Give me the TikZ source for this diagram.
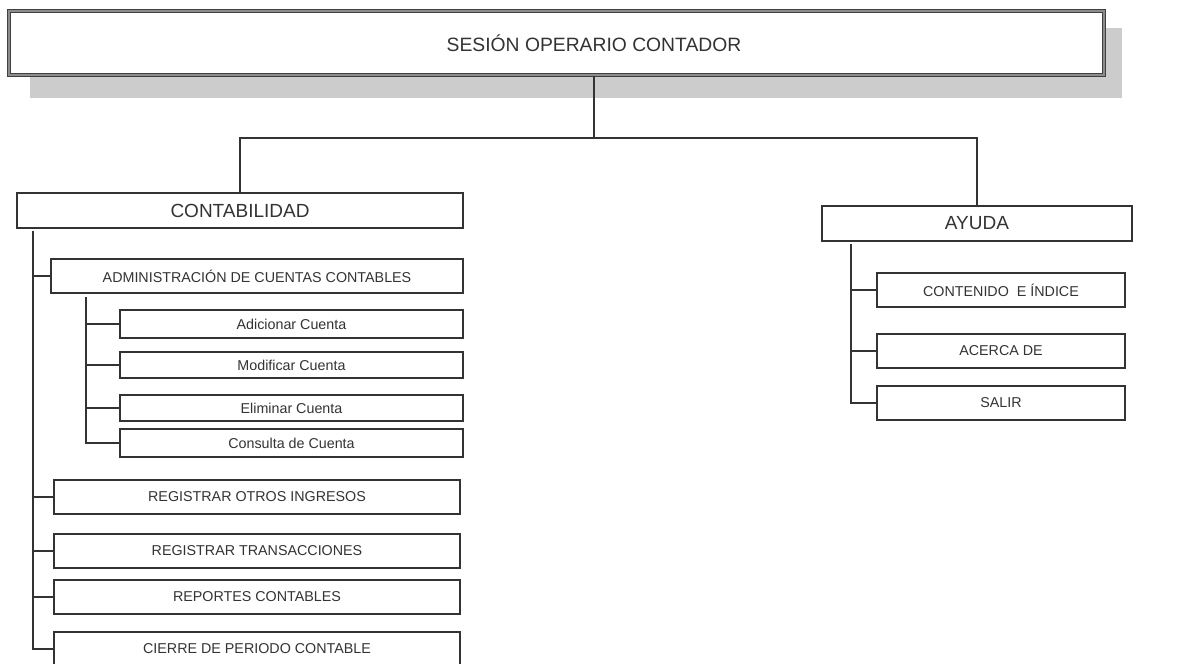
\documentclass[tikz,border=0pt]{standalone}
\usepackage{fontspec}
\setmainfont{Liberation Sans}
\definecolor{ink}{HTML}{333333}
\begin{document}
\begin{tikzpicture}[x=1pt, y=-1pt,
    box/.style={draw=ink, line width=1.6pt, fill=white, text=ink, inner sep=0pt, minimum width=#1},
    head/.style={box=#1, minimum height=35, font=\fontsize{19}{19}\selectfont},
    item/.style={box=#1, font=\fontsize{14.3}{14.3}\selectfont},
    link/.style={draw=ink, line width=1.6pt}]
    \useasboundingbox (0,0) rectangle (1195,664);
    \fill[black!20] (30,28) rectangle (1122,98);
    \node[draw=black!75, double=black!45, line width=1pt, double distance=1.2pt, fill=white,
          minimum width=1095, minimum height=64] (sesion) at (556.5,43) {};
    \coordinate (hub) at (594,138);
    \node[text=ink, font=\fontsize{19.3}{19.3}\selectfont] (titulo) at (sesion.center -| hub) {SESIÓN OPERARIO CONTADOR};
    \node[head=446] (conta) at (240,210.5) {CONTABILIDAD};
    \node[head=310] (ayuda) at (977,223.5) {AYUDA};
    \node[item=412, minimum height=34] (admin) at (257,276) {ADMINISTRACIÓN DE CUENTAS CONTABLES};
    \node[item=343, minimum height=28] (adicionar) at (291.5,324) {Adicionar Cuenta};
    \node[item=343, minimum height=26] (modificar) at (291.5,365) {Modificar Cuenta};
    \node[item=343, minimum height=26] (eliminar) at (291.5,408) {Eliminar Cuenta};
    \node[item=343, minimum height=28] (consulta) at (291.5,443) {Consulta de Cuenta};
    \node[item=406, minimum height=34] (otros) at (257,497) {REGISTRAR OTROS INGRESOS};
    \node[item=406, minimum height=34] (trans) at (257,551) {REGISTRAR TRANSACCIONES};
    \node[item=406, minimum height=34] (reportes) at (257,597) {REPORTES CONTABLES};
    \node[item=406, minimum height=34] (cierre) at (257,649) {CIERRE DE PERIODO CONTABLE};
    \node[item=248, minimum height=34] (contenido) at (1001,290) {CONTENIDO \ E ÍNDICE};
    \node[item=248, minimum height=34] (acerca) at (1001,351) {ACERCA DE};
    \node[item=248, minimum height=34] (salir) at (1001,403) {SALIR};
    \coordinate (ctrunk) at (33,231);
    \coordinate (atrunk) at (86,297);
    \coordinate (ytrunk) at (851,244);
    \draw[link] (hub |- sesion.south) -- (hub);
    \draw[link] (conta.north) |- (hub) -| (ayuda.north);
    \draw[link] (ctrunk) |- (cierre.west);
    \foreach \n in {admin,otros,trans,reportes}
        \draw[link] (ctrunk |- \n.west) -- (\n.west);
    \draw[link] (atrunk) |- (consulta.west);
    \foreach \n in {adicionar,modificar,eliminar}
        \draw[link] (atrunk |- \n.west) -- (\n.west);
    \draw[link] (ytrunk) |- (salir.west);
    \foreach \n in {contenido,acerca}
        \draw[link] (ytrunk |- \n.west) -- (\n.west);
\end{tikzpicture}
\end{document}
